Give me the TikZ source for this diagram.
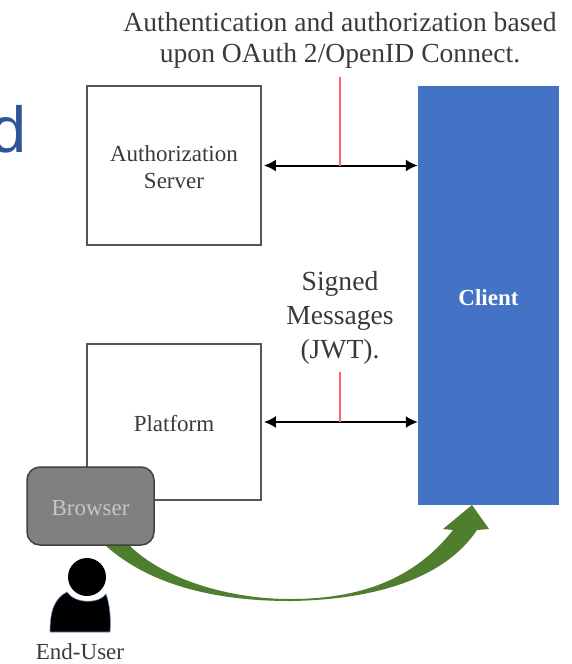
\documentclass[tikz,border=0pt]{standalone}
\usepackage{fontspec}
\setmainfont{Liberation Serif}
\newfontfamily\sansf{Liberation Sans}
\usetikzlibrary{arrows.meta}
\definecolor{clientblue}{HTML}{4472C4}
\definecolor{inkblue}{HTML}{2F5597}
\definecolor{flowgreen}{HTML}{4F7F2E}
\definecolor{boxline}{HTML}{555555}
\definecolor{textgray}{HTML}{3A3A3A}
\tikzset{
  boxfont/.style={inner sep=0pt,align=center,font=\fontsize{23}{27}\selectfont},
  plainbox/.style={draw=boxline,line width=1.8pt,fill=white,inner sep=0pt},
  boxtext/.style={boxfont,text=textgray,yshift=-2pt},
  caption/.style={text=textgray,align=center,inner sep=0pt,font=\fontsize{27.6}{34}\selectfont},
  link/.style={black,line width=2pt,{Latex[length=12pt,width=12pt]}-{Latex[length=12pt,width=12pt]}},
  redline/.style={draw=red!60!white,line width=1.3pt}
}
\begin{document}
\begin{tikzpicture}[x=1pt,y=-1pt]
\useasboundingbox (0,0) rectangle (571,664);
\begin{scope}
\clip (0,0) rectangle (571,664);
\node[anchor=base east,inner sep=0pt,text=inkblue,font=\sansf\fontsize{65}{65}\selectfont] (cut) at (27,152) {d};
\end{scope}
\node[plainbox,minimum width=174pt,minimum height=159pt,label={[boxtext]center:Authorization\\Server}] (auth) at (174,165.5) {};
\node[plainbox,minimum width=174pt,minimum height=156pt,label={[boxtext]center:Platform}] (platform) at (174,422) {};
\node[fill=clientblue,inner sep=0pt,minimum width=141pt,minimum height=419pt,label={[boxtext,text=white,font=\fontsize{23}{27}\selectfont\bfseries]center:Client}] (client) at (488.5,295.5) {};
\node[draw=black!75,line width=1.5pt,fill=black!50,rounded corners=13pt,minimum width=127pt,minimum height=78pt,inner sep=0pt,label={[boxtext,text=black!22]center:Browser}] (browser) at (90.5,506) {};
\node[caption,font=\fontsize{27.6}{31}\selectfont] (top) at (340,40) {Authentication and authorization based\\upon OAuth 2/OpenID Connect.};
\node[caption] (signed) at (340,317.5) {Signed\\Messages\\(JWT).};
\coordinate (r1) at (340,77);
\coordinate (r2) at (340,372);
\draw[link] (auth.east) ++(2,0) coordinate (a1) -- (client.west |- a1);
\draw[link] (platform.east) ++(2,0) coordinate (a2) -- (client.west |- a2);
\draw[redline] (r1) -- (r1 |- a1);
\draw[redline] (r2) -- (r2 |- a2);
% curved flow arrow
\coordinate (s1) at (106,546);
\coordinate (s2) at (130,546);
\fill[flowgreen] (s2) .. controls (165,580) and (230,599) .. (290,599)
  .. controls (350,599) and (410,585) .. (453,530)
  -- (443,529) -- (472,505) -- (489,529) -- (477,530)
  .. controls (440,585) and (360,600) .. (290,601)
  .. controls (215,601) and (150,585) .. (s1) -- cycle;
% end user
\fill[black] (87,577) circle (19);
\fill[black,draw=inkblue!70,line width=.6pt] (50,632) .. controls (50,610) and (55,598) .. (67,592)
  .. controls (75,604) and (99,604) .. (106,594)
  .. controls (110,605) and (111,620) .. (110,632) -- cycle;
\node[text=textgray,inner sep=0pt,font=\fontsize{23}{27}\selectfont] (enduser) at (80,652) {End-User};
\end{tikzpicture}
\end{document}
